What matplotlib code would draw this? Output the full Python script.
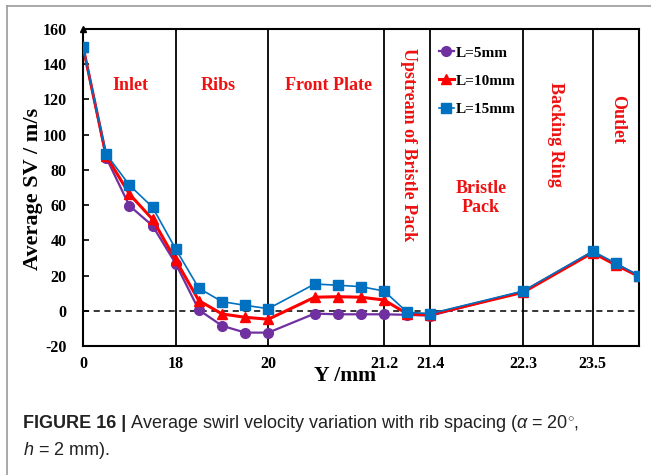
import numpy as np
import matplotlib
matplotlib.use("Agg")
import matplotlib.pyplot as plt
from matplotlib.lines import Line2D

plt.rcParams['mathtext.fontset'] = 'custom'
plt.rcParams['mathtext.rm'] = 'Liberation Sans'
plt.rcParams['mathtext.it'] = 'Liberation Sans:italic'
plt.rcParams['axes.unicode_minus'] = False

# ---- data ----
y_mm = [0, 4.5, 9, 13.5, 18, 18.5, 19, 19.5, 20, 20.48, 20.72, 20.96, 21.2,
        21.3, 21.4, 22.3, 23.5, 23.9, 24.3]
sv_5 = [150, 87, 59.7, 48.3, 26.8, 0.5, -8.5, -12.4, -12.4, -1.6, -2.0, -2.0, -2.0,
        -2.3, -2.8, 11, 33.5, 26.5, 20]
sv_10 = [150, 88, 66.3, 52, 28.8, 5.8, -1.8, -3.7, -4.8, 7.7, 8.0, 7.7, 6.1,
         -1.8, -2.2, 10.5, 33, 26, 19.5]
sv_15 = [150, 89, 71.4, 58.8, 35.1, 12.8, 5.2, 3.1, 1.2, 15.2, 14.5, 13.7, 11.2,
         -0.9, -1.6, 11.2, 33.8, 27, 19.8]
series_labels = ["L=5mm", "L=10mm", "L=15mm"]
boundaries = [18, 20, 21.2, 21.4, 22.3, 23.5]
xtick_vals = [0, 18, 20, 21.2, 21.4, 22.3, 23.5]
xtick_labels = ["0", "18", "20", "21.2", "21.4", "22.3", "23.5"]
regions = ["Inlet", "Ribs", "Front Plate", "Upstream of Bristle Pack",
           "Bristle\nPack", "Backing Ring", "Outlet"]

# piecewise-linear display scale (non-uniform axis)
bp_mm = np.array([0, 18, 20, 21.2, 21.4, 22.3, 23.5, 24.3])
bp_u = np.array([0, 4, 8, 13, 15, 19, 22, 24])
fwd = lambda x: np.interp(x, bp_mm, bp_u)
inv = lambda u: np.interp(u, bp_u, bp_mm)

fig = plt.figure(figsize=(6.51, 4.75), dpi=100)
ax = fig.add_axes([83/651, 1-346/475, (639-83)/651, (346-29)/475])
ax.set_xscale('function', functions=(fwd, inv))
ax.set_xlim(0, 24.3)
ax.set_ylim(-20, 160)

serif = 'Liberation Serif'
cols = ['#7030A0', '#FF0000', '#0070C0']
ax.axhline(0, color='black', ls=(0, (4, 3)), lw=1.1, zorder=1)
for b in boundaries:
    ax.axvline(b, color='black', lw=1.3, zorder=1)

ax.plot(y_mm, sv_5, color=cols[0], lw=1.6, marker='o', ms=7, label=series_labels[0], zorder=3)
ax.plot(y_mm, sv_10, color=cols[1], lw=2.2, marker='^', ms=7.5, label=series_labels[1], zorder=4)
ax.plot(y_mm, sv_15, color=cols[2], lw=1.2, marker='s', ms=7.5, label=series_labels[2], zorder=5)

ax.set_xticks(xtick_vals)
ax.set_xticklabels(xtick_labels)
ax.set_yticks(np.arange(-20, 161, 20))
ax.tick_params(axis='x', length=0, pad=7)
ax.tick_params(axis='y', direction='in', length=4, width=1.2, pad=12)
for lab in ax.get_xticklabels() + ax.get_yticklabels():
    lab.set_fontfamily(serif)
    lab.set_fontweight('bold')
    lab.set_fontsize(11.5)
for s in ax.spines.values():
    s.set_linewidth(1.5)
    s.set_color('black')
# small arrow head at top of y axis
ax.plot([0], [1], transform=ax.transAxes, marker='^', ms=4, color='black', clip_on=False, zorder=6)

leg = ax.legend(loc='upper left', bbox_to_anchor=(0.615, 0.99), frameon=False,
                handlelength=1.0, handletextpad=0.1, labelspacing=0.95,
                prop={'family': serif, 'weight': 'bold', 'size': 11})

# region labels
rc = '#EE1111'
rk = dict(color=rc, family=serif, weight='bold', fontsize=13,
          ha='center', va='center', transform=ax.transAxes)
ax.text(0.0845, 0.823, regions[0], **rk)
ax.text(0.243, 0.823, regions[1], **rk)
ax.text(0.442, 0.823, regions[2], **rk)
ax.text(0.585, 0.634, regions[3], rotation=270, **rk)
ax.text(0.716, 0.467, regions[4], linespacing=1.15, **rk)
ax.text(0.850, 0.669, regions[5], rotation=270, **rk)
ax.text(0.962, 0.713, regions[6], rotation=270, **rk)

fig.text(33/651, 1-189/475, "Average SV / m/s", rotation=90, family=serif,
         weight='bold', fontsize=16, ha='center', va='center')
fig.text(345/651, 1-376/475, "Y /mm", family=serif, weight='bold', fontsize=15.5,
         ha='center', va='center')

# frame lines
fig.add_artist(Line2D([7/651, 7/651], [0, 1-6/475], transform=fig.transFigure, color='#999999', lw=1.2))
fig.add_artist(Line2D([7/651, 1], [1-6/475, 1-6/475], transform=fig.transFigure, color='#999999', lw=1.2))

# caption
cap_fam = ['Liberation Sans', 'DejaVu Sans']
cs = 13
t1 = fig.text(23/651, 1-428/475, "FIGURE 16 |", family=cap_fam, weight='bold', fontsize=cs,
              ha='left', va='baseline', color='#222222')
fig.canvas.draw()
bb = t1.get_window_extent()
fig.text((bb.x1 + 4)/651, 1-428/475,
         r"Average swirl velocity variation with rib spacing ($\it{\alpha}$ = 20$^{\circ}$,",
         family=cap_fam, fontsize=cs, ha='left', va='baseline', color='#222222')
fig.text(23/651, 1-455/475, r"$\it{h}$ = 2 mm).", family=cap_fam, fontsize=cs,
         ha='left', va='baseline', color='#222222')

fig.savefig("out.png", dpi=100)
